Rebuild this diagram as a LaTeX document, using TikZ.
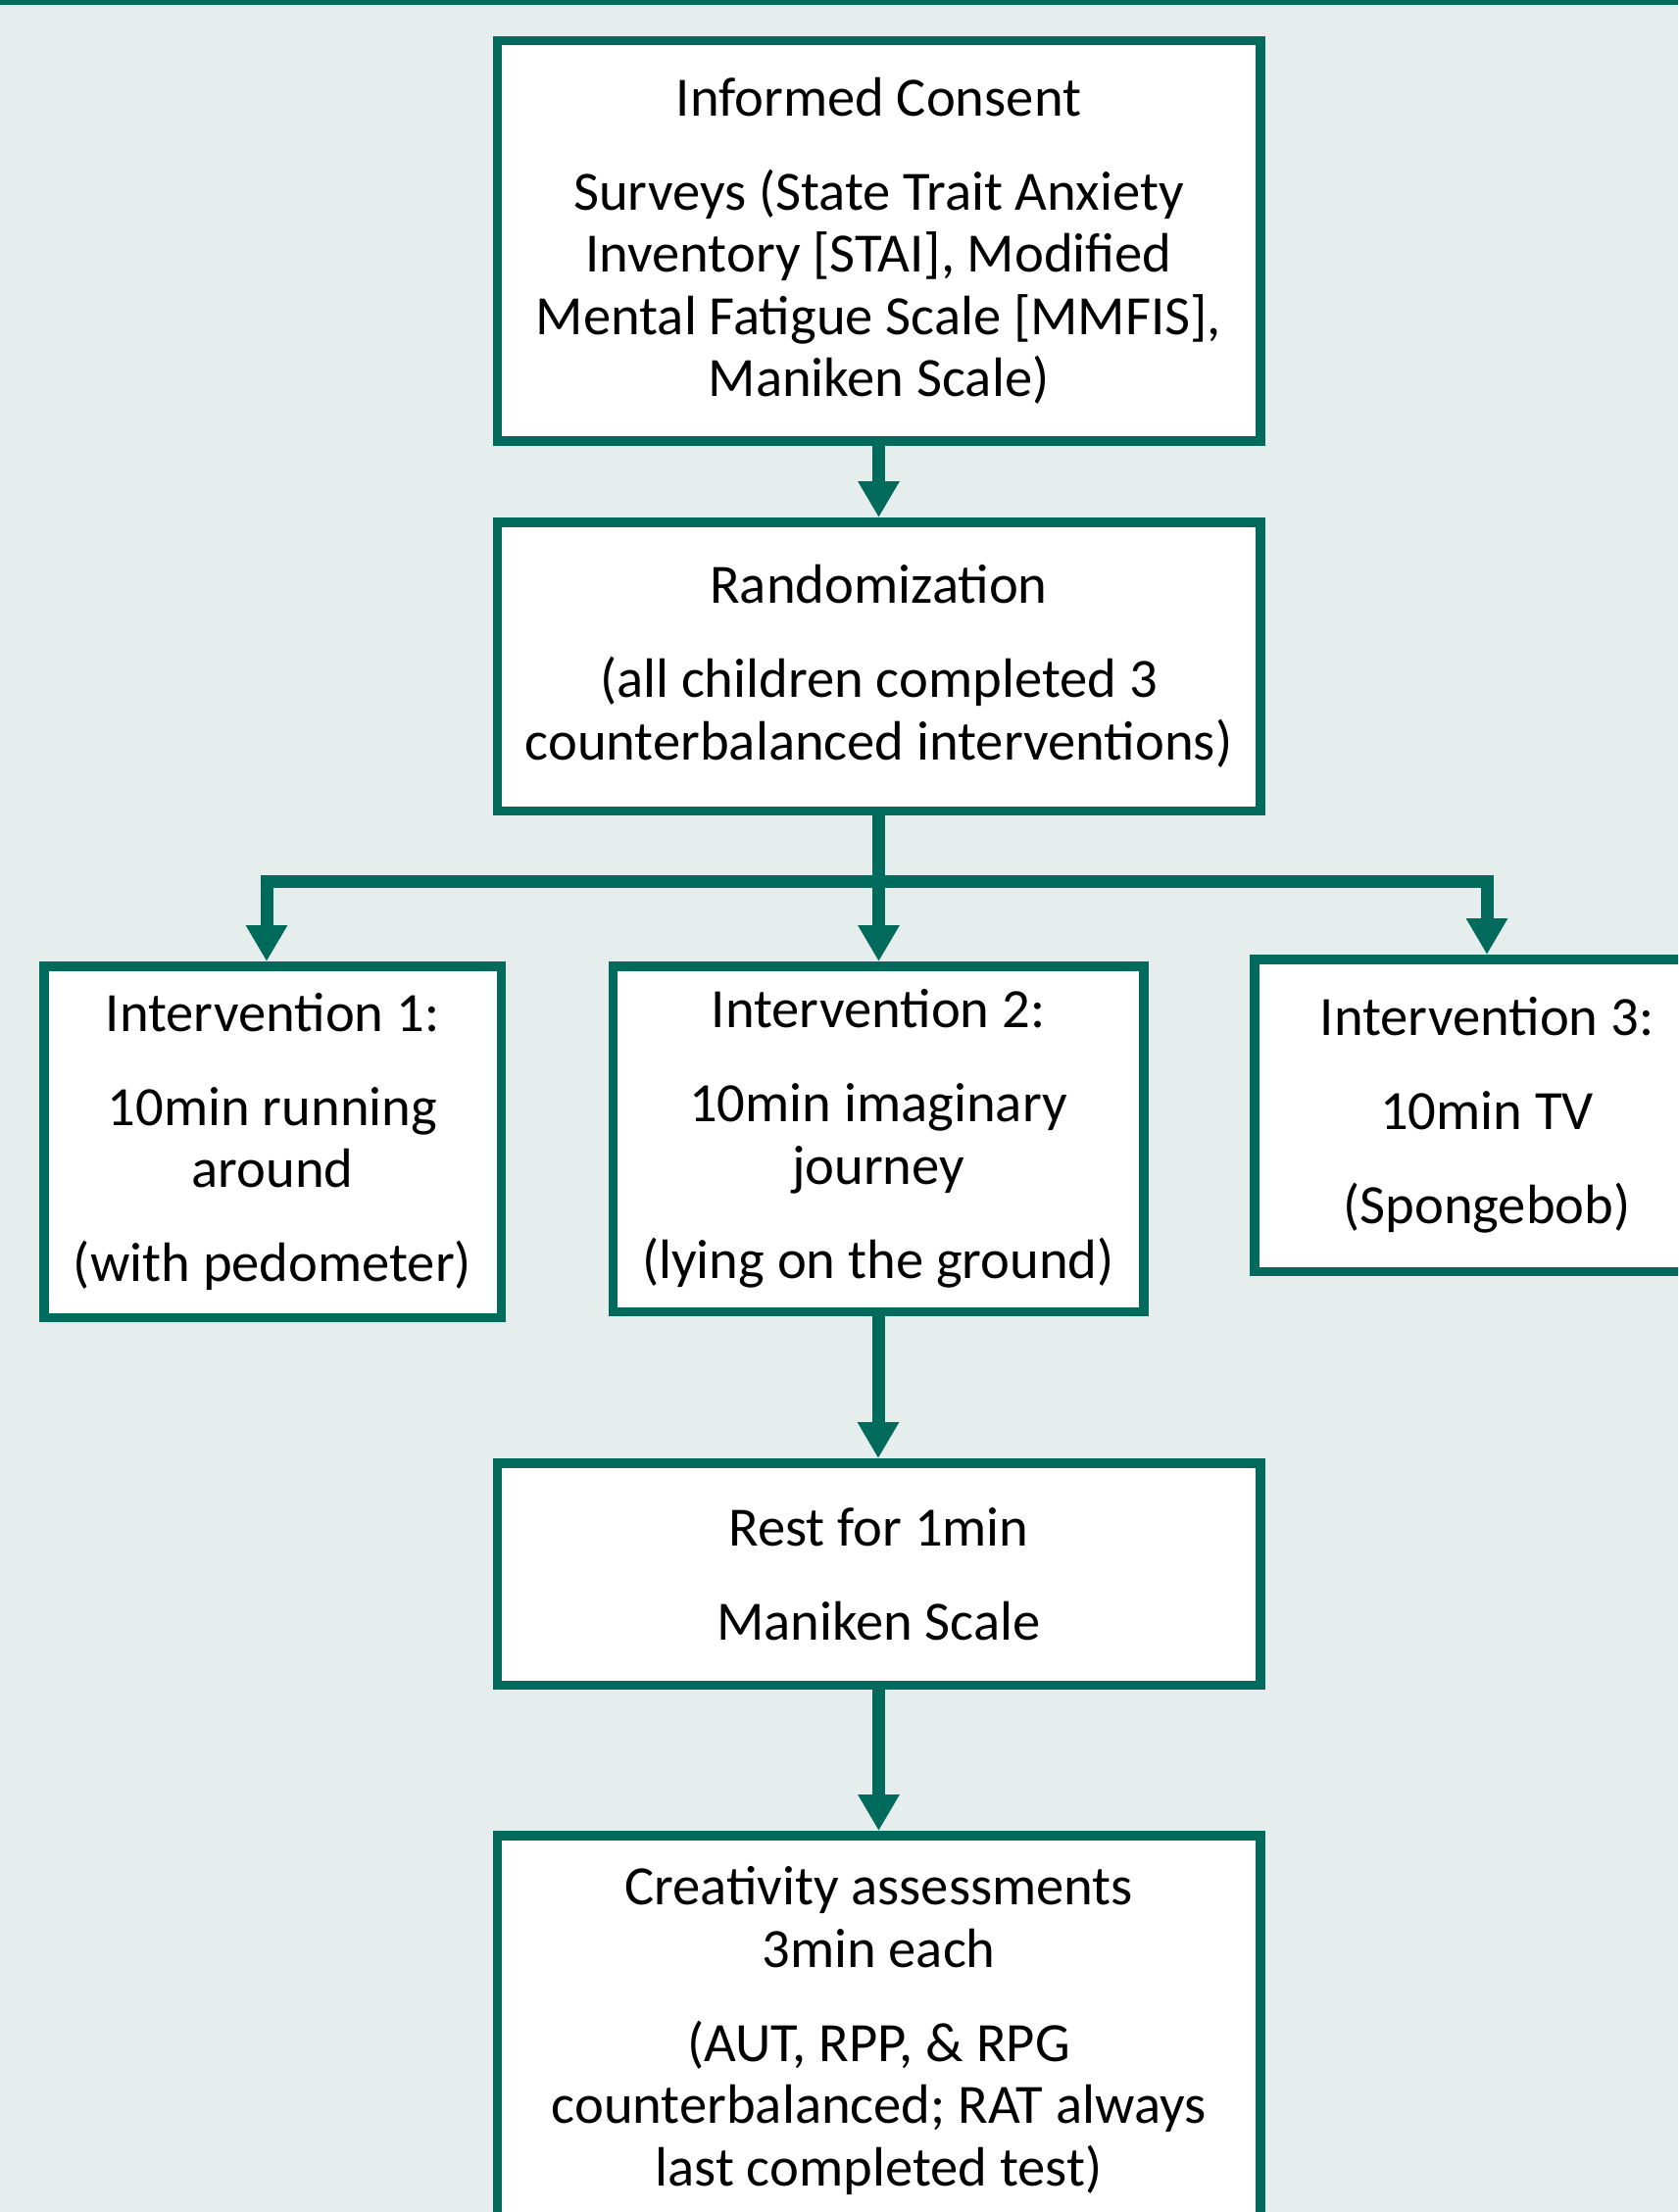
\documentclass[tikz,border=0pt]{standalone}
\usepackage{fontspec}
\setmainfont{Carlito}
\usetikzlibrary{arrows.meta}
\definecolor{dgreen}{RGB}{0,107,93}
\definecolor{bgc}{RGB}{229,238,236}
\tikzset{
  box/.style={draw=dgreen, line width=4.75pt, fill=white, align=center,
    inner sep=0pt, text=black, font=\fontsize{28.3}{31.75}\selectfont},
  conn/.style={draw=dgreen, line width=6.5pt, line join=miter},
  arr/.style={conn, -{Triangle[width=20pt,length=18.5pt]}},
}
\begin{document}
\begin{tikzpicture}[x=0.5pt,y=-0.5pt]
\useasboundingbox (0,0) rectangle (1712,2257);
\clip (0,0) rectangle (1712,2257);
\fill[bgc] (0,0) rectangle (1712,2257);
\fill[dgreen] (0,0) rectangle (1712,5);

\node[box, minimum width=389.25pt, minimum height=204.25pt] (box1) at (896.5,246)
  {Informed Consent\\[16.25pt]
   Surveys (State Trait Anxiety\\
   Inventory [STAI], Modified\\
   Mental Fatigue Scale [MMFIS],\\
   Maniken Scale)};

\node[box, minimum width=389.25pt, minimum height=147.25pt] (box2) at (896.5,680)
  {Randomization\\[16.25pt]
   (all children completed 3\\
   counterbalanced interventions)};

\node[box, minimum width=233.25pt, minimum height=179.25pt] (int1) at (278,1165)
  {Intervention 1:\\[16.25pt]
   10min running\\
   around\\[16.25pt]
   (with pedometer)};

\node[box, minimum width=270.75pt, minimum height=176.25pt] (int2) at (896,1162)
  {Intervention 2:\\[16.25pt]
   10min imaginary\\
   journey\\[16.25pt]
   (lying on the ground)};

\node[box, minimum width=237.25pt, minimum height=159.25pt] (int3) at (1517,1138)
  {Intervention 3:\\[16.25pt]
   10min TV\\[16.25pt]
   (Spongebob)};

\node[box, minimum width=389.25pt, minimum height=113.25pt] (rest) at (896.5,1606)
  {Rest for 1min\\[16.25pt]
   Maniken Scale};

\node[box, minimum width=389.25pt, minimum height=199.25pt] (creat) at (896.5,2072)
  {Creativity assessments\\
   3min each\\[16.25pt]
   (AUT, RPP, \& RPG\\
   counterbalanced; RAT always\\
   last completed test)};

\coordinate (split) at (896.5,899);
\draw[arr] (box1.south) -- (box2.north);
\draw[arr] (box2.south) -- (box2.south |- int2.north);
\draw[arr] (split) -| ([xshift=-3pt]int1.north);
\draw[arr] (split) -| (int3.north);
\draw[arr] (int2.south) -- (int2.south |- rest.north);
\draw[arr] (rest.south) -- (creat.north);
\end{tikzpicture}
\end{document}
